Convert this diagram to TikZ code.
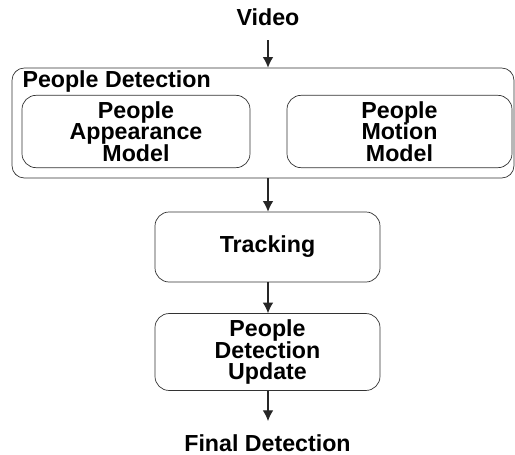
\documentclass[tikz,border=0pt]{standalone}
\usepackage{fontspec}
\setmainfont{Liberation Sans}
\usetikzlibrary{positioning}
\usetikzlibrary{arrows.meta}

\begin{document}
\begin{tikzpicture}[
    semithick,
    font=\bfseries\fontsize{13.2}{12.4}\selectfont
]
\tikzset{
    bigbox/.style = {rectangle, rounded corners=7pt, draw=black!80, thin, minimum width=10.04cm, minimum height=2.2cm},
    modelbox/.style = {rectangle, rounded corners=8pt, draw=black!80, thin, align=center, minimum height=1.38cm},
    stagebox/.style = {rectangle, rounded corners=8pt, draw=black!80, thin, align=center, minimum width=4.5cm, minimum height=1.4cm},
    flow/.style = {-{Latex[length=6pt,width=6pt]}, semithick, black!85}
}
\useasboundingbox (0,0) rectangle (10.3,9.08);
\node at (5.36,8.74) (video) {Video};
\node[bigbox] at (5.26,6.62) (det) {};
\node[anchor=west, inner sep=0pt] at (0.44,7.44) (detlabel) {People Detection};
\node[modelbox, minimum width=4.56cm] at (2.72,6.45) (appear) {People\\Appearance\\Model};
\node[modelbox, minimum width=4.5cm] at (7.99,6.45) (motion) {People\\Motion\\Model};
\node[stagebox] at (5.35,4.14) (track) {Tracking};
\node[stagebox] at (5.35,2.04) (update) {People\\Detection\\Update};
\node at (5.35,0.22) (final) {Final Detection};
\coordinate (vstart) at (5.36,8.28);
\coordinate (fend) at (5.36,0.66);
\draw[flow] (vstart) -- (vstart |- det.north);
\draw[flow] (vstart |- det.south) -- (vstart |- track.north);
\draw[flow] (vstart |- track.south) -- (vstart |- update.north);
\draw[flow] (vstart |- update.south) -- (fend);
\end{tikzpicture}
\end{document}
